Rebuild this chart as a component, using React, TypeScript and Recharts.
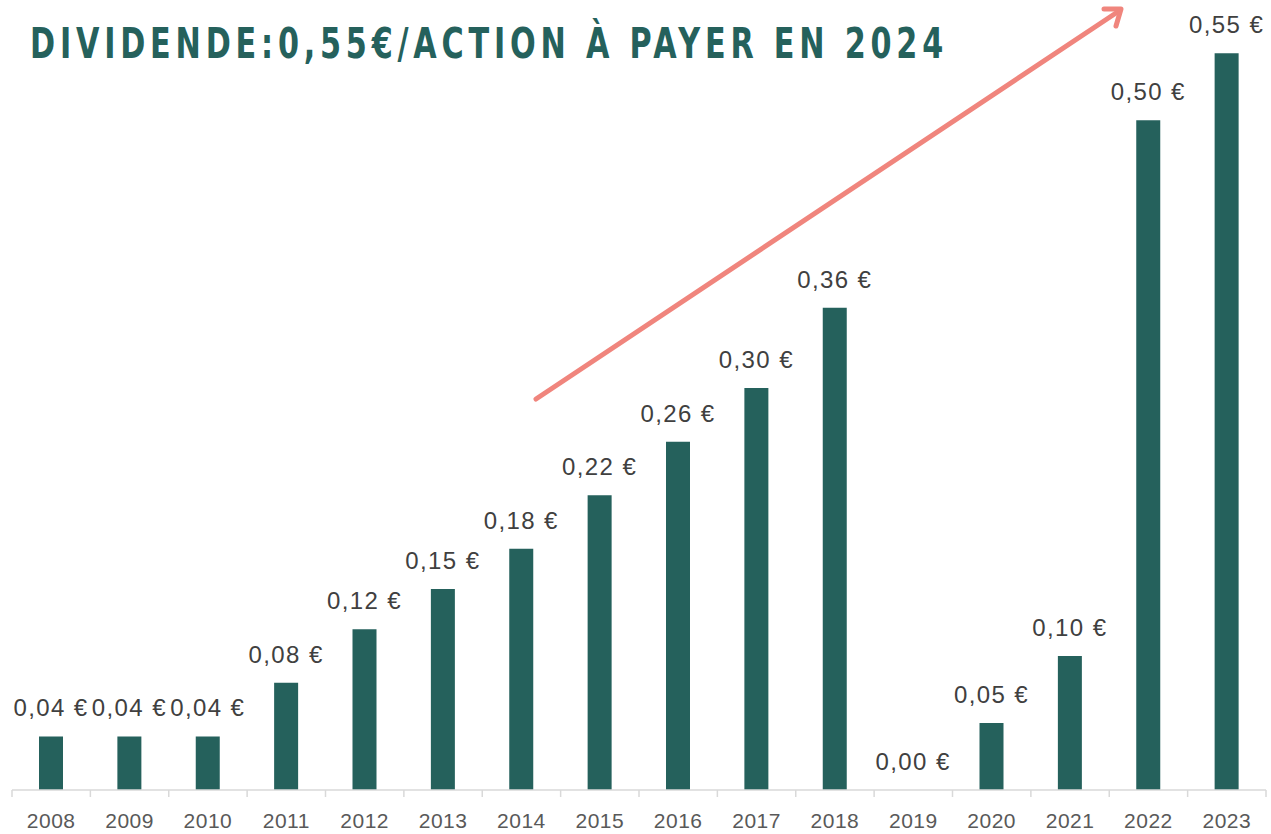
import React from "react";
import { Bar, BarChart, Customized, LabelList, XAxis, YAxis } from "recharts";

const years = ["2008", "2009", "2010", "2011", "2012", "2013", "2014", "2015", "2016", "2017", "2018", "2019", "2020", "2021", "2022", "2023"];
const dividends = [0.04, 0.04, 0.04, 0.08, 0.12, 0.15, 0.18, 0.22, 0.26, 0.3, 0.36, 0.0, 0.05, 0.1, 0.5, 0.55];

const W = 1271;
const H = 834;
const MARGIN = { top: 13, right: 5, left: 12, bottom: 14 };
const BAND = (W - MARGIN.left - MARGIN.right) / years.length;

const TEAL = "#25615c";
const AXIS_GREY = "#d9d9d9";
const TEXT_GREY = "#404040";

const chartData = years.map((year, i) => ({ year, value: dividends[i] }));

const fmt = (v: number) => `${v.toFixed(2).replace(".", ",")} €`;

const renderLabel = (props: any) => {
  const { x, y, width, value } = props;
  return (
    <text
      x={x + width / 2}
      y={y - 20}
      textAnchor="middle"
      fill={TEXT_GREY}
      fontSize={24}
      letterSpacing={1.4}
      fontFamily="'Liberation Sans', Arial, sans-serif"
    >
      {fmt(value)}
    </text>
  );
};

const renderTick = (props: any) => {
  const { x, y, payload, index } = props;
  const axisY = y - 8;
  const left = x - BAND / 2;
  return (
    <g>
      <line x1={left} x2={left} y1={axisY} y2={axisY + 7} stroke={AXIS_GREY} strokeWidth={1.5} />
      {index === years.length - 1 && (
        <line x1={x + BAND / 2} x2={x + BAND / 2} y1={axisY} y2={axisY + 7} stroke={AXIS_GREY} strokeWidth={1.5} />
      )}
      <text
        x={x}
        y={y + 30}
        textAnchor="middle"
        fill="#595959"
        fontSize={21}
        letterSpacing={0.5}
        fontFamily="'Liberation Sans', Arial, sans-serif"
      >
        {payload.value}
      </text>
    </g>
  );
};

// salmon trend arrow drawn over the chart
const Arrow = () => (
  <g stroke="#f0857d" strokeWidth={5} fill="none" strokeLinecap="round" strokeLinejoin="round">
    <line x1={536} y1={399} x2={1119} y2={11} />
    <polyline points="1104,9 1121,9 1116,26" />
  </g>
);

export default function App() {
  return (
    <div style={{ position: "relative", width: W, height: H, background: "#fff" }}>
      <style>{"body{margin:0}"}</style>
      <div
        style={{
          position: "absolute",
          left: 30,
          top: 16,
          fontFamily: "'Liberation Sans Narrow', 'DejaVu Sans Condensed', sans-serif",
          fontWeight: 700,
          fontSize: 42,
          letterSpacing: 6,
          color: TEAL,
          whiteSpace: "nowrap",
          lineHeight: "56px",
          transform: "scaleX(0.8)",
          transformOrigin: "0 0",
          zIndex: 2,
        }}
      >
        DIVIDENDE:0,55€/ACTION À PAYER EN 2024
      </div>
      <BarChart width={W} height={H} data={chartData} margin={MARGIN}>
        <YAxis hide domain={[0, 0.58]} />
        <XAxis
          dataKey="year"
          height={30}
          interval={0}
          axisLine={{ stroke: AXIS_GREY, strokeWidth: 1.5 }}
          tickLine={false}
          tick={renderTick}
        />
        <Bar dataKey="value" fill={TEAL} barSize={24} minPointSize={0.01} isAnimationActive={false}>
          <LabelList dataKey="value" content={renderLabel} />
        </Bar>
        <Customized component={Arrow} />
      </BarChart>
    </div>
  );
}
